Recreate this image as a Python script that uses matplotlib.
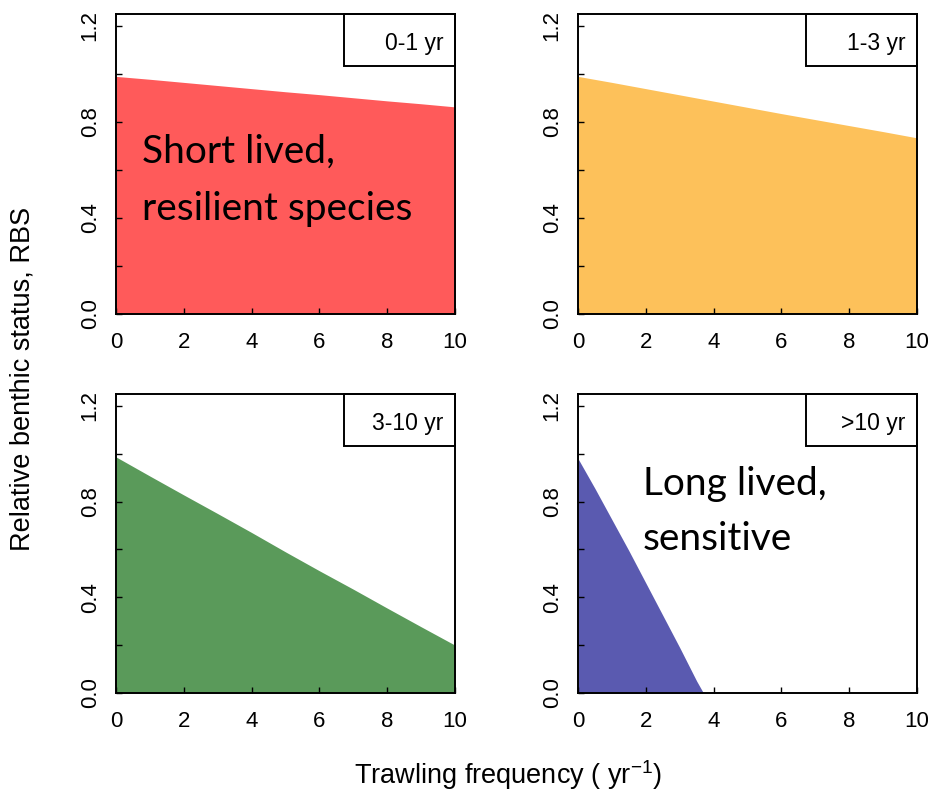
import matplotlib
matplotlib.use("Agg")
import matplotlib.pyplot as plt
from matplotlib.patches import Rectangle

plt.rcParams['font.family'] = ['Liberation Sans', 'DejaVu Sans']
plt.rcParams['mathtext.fontset'] = 'custom'
plt.rcParams['mathtext.rm'] = 'Liberation Sans'
plt.rcParams['mathtext.it'] = 'Liberation Sans'

# trawling frequency (per year) and relative benthic status per longevity class
freq = [0, 1, 2, 3, 4, 5, 6, 7, 8, 9, 10]
rbs_0_1 = [0.99, 0.978, 0.965, 0.952, 0.939, 0.926, 0.914, 0.901, 0.888, 0.876, 0.863]
rbs_1_3 = [0.99, 0.965, 0.939, 0.913, 0.887, 0.861, 0.835, 0.810, 0.785, 0.760, 0.734]
rbs_3_10 = [0.987, 0.907, 0.828, 0.750, 0.671, 0.590, 0.511, 0.434, 0.355, 0.277, 0.20]

freq_long = [0, 0.5, 1.0, 1.5, 2.0, 2.5, 3.0, 3.5, 3.7, 4, 6, 8, 10]
rbs_10 = [0.98, 0.855, 0.725, 0.595, 0.46, 0.325, 0.19, 0.05, 0.0, 0.0, 0.0, 0.0, 0.0]

labels = ['0-1 yr', '1-3 yr', '3-10 yr', '>10 yr']
colors = ['#FF5A5A', '#FDC15A', '#5A9A5A', '#5A5AB0']

W, H = 929, 796
fig = plt.figure(figsize=(W / 100, H / 100), dpi=100)

# panel boxes in pixels: left, top, right, bottom
boxes = [(116, 14, 455, 314), (578, 14, 917, 314),
         (116, 394, 455, 693), (578, 394, 917, 693)]
xs = [freq, freq, freq, freq_long]
ys = [rbs_0_1, rbs_1_3, rbs_3_10, rbs_10]

axes = []
for (l, t, r, b), x, y, lab, col in zip(boxes, xs, ys, labels, colors):
    ax = fig.add_axes([l / W, 1 - b / H, (r - l) / W, (b - t) / H])
    ax.fill_between(x, 0, y, color=col, linewidth=0)
    ax.set_xlim(0, 10)
    ax.set_ylim(0, 1.25)
    ax.set_xticks([0, 2, 4, 6, 8, 10])
    ax.set_yticks([0, 0.2, 0.4, 0.6, 0.8, 1.0, 1.2])
    ax.set_yticklabels(['0.0', '', '0.4', '', '0.8', '', '1.2'],
                       rotation=90, va='center')
    ax.tick_params(direction='in', length=4, width=1, labelsize=16,
                   colors='black')
    ax.tick_params(axis='x', pad=13)
    ax.tick_params(axis='y', pad=11)
    for s in ax.spines.values():
        s.set_linewidth(1.4)
    # label box in the top right corner
    ax.add_patch(Rectangle((0.673, 0.827), 0.327, 0.173, transform=ax.transAxes,
                           fill=False, edgecolor='black', linewidth=1.4,
                           clip_on=False, zorder=5))
    ax.text(0.965, 0.902, lab, transform=ax.transAxes, ha='right', va='center',
            fontsize=16.5)
    axes.append(ax)

note_font = dict(family=['Lato', 'DejaVu Sans'], fontsize=28, ha='left', va='baseline')
axes[0].text(0.077, 0.503, 'Short lived,', transform=axes[0].transAxes, **note_font)
axes[0].text(0.077, 0.313, 'resilient species', transform=axes[0].transAxes, **note_font)
axes[3].text(0.192, 0.662, 'Long lived,', transform=axes[3].transAxes, **note_font)
axes[3].text(0.192, 0.478, 'sensitive', transform=axes[3].transAxes, **note_font)

fig.text(0.547, 0.026, r'Trawling frequency ( yr$^{-1}$)', ha='center', va='center',
         fontsize=19.5)
fig.text(0.024, 0.524, 'Relative benthic status, RBS', ha='center', va='center',
         rotation=90, fontsize=19.5)

fig.savefig('out.png', dpi=100)
